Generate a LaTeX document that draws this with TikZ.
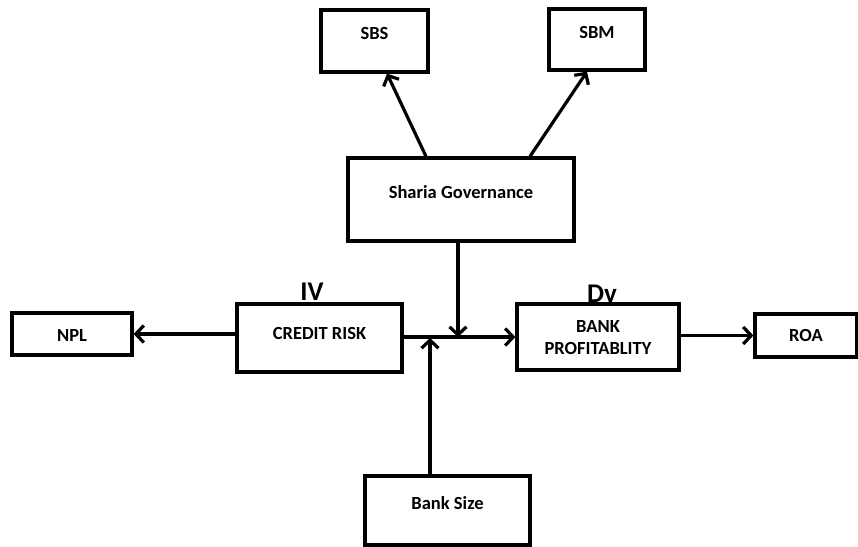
\documentclass[tikz,border=0pt]{standalone}
\usepackage{fontspec}
\setmainfont{Carlito}
\usetikzlibrary{arrows.meta}
\begin{document}
\begin{tikzpicture}[x=1pt,y=-1pt,
  box/.style={draw=black,line width=3.2pt,fill=white,inner sep=0pt},
  lbl/.style={font=\fontsize{18.5}{21}\selectfont\bfseries,align=center,inner sep=0pt},
  big/.style={font=\fontsize{27}{29}\selectfont\bfseries,inner sep=0pt},
  conn/.style={line width=3.2pt,-{Straight Barb[length=8pt,width=17pt]}}]
\useasboundingbox (0,0) rectangle (858,546);
% boxes
\node[box,minimum width=107pt,minimum height=62pt] (sbs) at (374.5,41) {};
\node[lbl] (sbst) at (374.5,33) {SBS};
\node[box,minimum width=96pt,minimum height=61pt] (sbm) at (597,39.5) {};
\node[lbl] (sbmt) at (597,32) {SBM};
\node[box,minimum width=226pt,minimum height=83pt] (sg) at (461,199.5) {};
\node[lbl] (sgt) at (461,192) {Sharia Governance};
\node[box,minimum width=120pt,minimum height=42pt] (npl) at (72,334) {};
\node[lbl] (nplt) at (72,335) {NPL};
\node[box,minimum width=165pt,minimum height=68pt] (cr) at (319.5,338) {};
\node[lbl] (crt) at (319.5,333) {CREDIT RISK};
\node[box,minimum width=162pt,minimum height=66pt] (bp) at (598,337) {};
\node[lbl] (bpt) at (598,337.5) {BANK\\[1pt]PROFITABLITY};
\node[box,minimum width=102pt,minimum height=43pt] (roa) at (806,335.5) {};
\node[lbl] (roat) at (806,335) {ROA};
\node[box,minimum width=165pt,minimum height=69pt] (bs) at (447.5,510.5) {};
\node[lbl] (bst) at (447.5,503) {Bank Size};
\node[big] (iv) at (312,292) {IV};
\node[big] (dv) at (602,294) {Dv};
% connectors
\draw[conn] ([xshift=-35pt]sg.north) -- ([xshift=12.5pt]sbs.south);
\draw[conn] ([xshift=69pt]sg.north) -- ([xshift=-10pt]sbm.south);
\draw[conn] (cr.west |- npl.east) -- (npl.east);
\draw[conn] (cr.east |- bp.west) -- (bp.west);
\draw[conn] ([xshift=-3pt]sg.south) -- ([xshift=-3pt]sg.south |- bp.west);
\coordinate (bsn) at ([xshift=-17.5pt]bs.north);
\draw[conn] (bsn) -- (bsn |- cr.east);
\draw[conn] (bp.east |- roa.west) -- (roa.west);
\end{tikzpicture}
\end{document}
